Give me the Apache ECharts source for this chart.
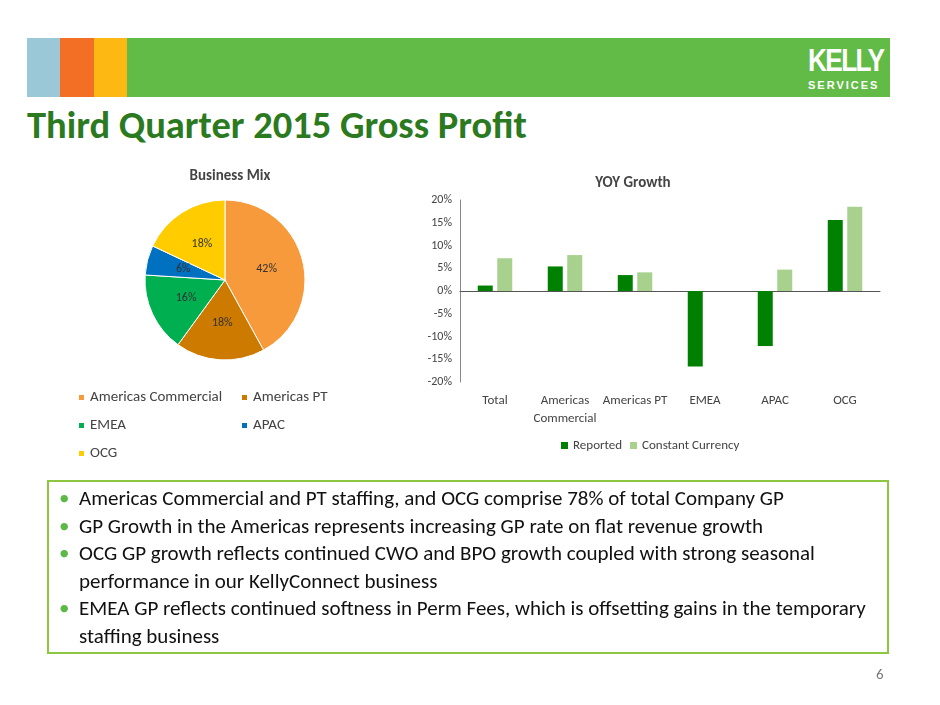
<!DOCTYPE html>
<html><head><meta charset="utf-8">
<script src="https://cdn.jsdelivr.net/npm/echarts@6/dist/echarts.min.js"></script>
<style>
body{margin:0;width:940px;height:705px;background:#fff;font-family:Carlito,Calibri,"Open Sans",sans-serif;position:relative;overflow:hidden}
#c{position:absolute;left:0;top:0;width:940px;height:705px}
.b{position:absolute;top:38px;height:59px}
#box{position:absolute;left:47px;top:480px;width:842px;height:174px;border:2px solid #8DC63F;box-sizing:border-box;padding:3px 10px;font-size:21px;color:#111;line-height:27.5px}
#box div{padding-left:20px;text-indent:-20px;margin-bottom:0}
#box span{color:#5DB848;display:inline-block;width:20px;text-indent:0}
</style></head><body>
<div class="b" style="left:27px;width:33px;background:#9BC8D6"></div>
<div class="b" style="left:60px;width:34px;background:#F36F26"></div>
<div class="b" style="left:94px;width:33px;background:#FDB813"></div>
<div class="b" style="left:127px;width:763px;background:#62BB46"></div>
<div style="position:absolute;left:808px;top:42px;color:#fff;font:bold 32px 'Liberation Sans Narrow',Arial,sans-serif;letter-spacing:-2px;transform:scaleX(0.82);transform-origin:left">KELLY</div>
<div style="position:absolute;left:808px;top:79px;color:#fff;font:bold 11px Arial,sans-serif;letter-spacing:2px">SERVICES</div>
<div style="position:absolute;left:27px;top:101px;color:#2C7A1F;font:bold 38.5px Carlito,'Open Sans',sans-serif">Third Quarter 2015 Gross Profit</div>
<div id="c"></div>
<div id="box">
<div><span>•</span>Americas Commercial and PT staffing, and OCG comprise 78% of total Company GP</div>
<div><span>•</span>GP Growth in the Americas represents increasing GP rate on flat revenue growth</div>
<div><span>•</span>OCG GP growth reflects continued CWO and BPO growth coupled with strong seasonal performance in our KellyConnect business</div>
<div><span>•</span>EMEA GP reflects continued softness in Perm Fees, which is offsetting gains in the temporary staffing business</div>
</div>
<div style="position:absolute;left:876px;top:665px;font-size:15px;color:#777">6</div>
<script>
const pieNames=['Americas Commercial','Americas PT','EMEA','APAC','OCG'];
const pieValues=[42,18,16,6,18];
const pieColors=['#F79A3B','#CC7A00','#00B050','#0070C0','#FFCC00'];
const barCats=['Total','Americas\nCommercial','Americas PT','EMEA','APAC','OCG'];
const reported=[1.2,5.4,3.5,-16.6,-12.1,15.6];
const constantCurrency=[7.2,7.9,4.1,0,4.7,18.5];
const f="Carlito,'Open Sans',sans-serif";
const lt={fontSize:15,color:'#444',fontFamily:f};
const ch=echarts.init(document.getElementById('c'));
ch.setOption({
 animation:false,
 title:[{text:'Business Mix',left:225,top:164,textAlign:'center',textStyle:{fontSize:15,fontWeight:'bold',color:'#444',fontFamily:f}},
        {text:'YOY Growth',left:628,top:171,textAlign:'center',textStyle:{fontSize:15,fontWeight:'bold',color:'#444',fontFamily:f}}],
 legend:[{data:['Americas Commercial','EMEA','OCG'],orient:'vertical',left:72,top:385,itemWidth:7,itemHeight:7,itemGap:13,icon:'rect',textStyle:lt},
         {data:['Americas PT','APAC'],orient:'vertical',left:235,top:385,itemWidth:7,itemHeight:7,itemGap:13,icon:'rect',textStyle:lt},
         {data:['Reported','Constant Currency'],left:556,top:434,itemWidth:7,itemHeight:7,icon:'rect',textStyle:{fontSize:13,color:'#444',fontFamily:f}}],
 grid:{left:460,top:200,width:420,height:182},
 xAxis:{type:'category',data:barCats,axisLine:{onZero:true,lineStyle:{color:'#555'}},axisTick:{show:false},
   axisLabel:{interval:0,color:'#444',fontSize:13,fontFamily:f,lineHeight:18,margin:10}},
 yAxis:{type:'value',min:-20,max:20,interval:5,splitLine:{show:false},axisLine:{show:true,lineStyle:{color:'#888'}},
   axisLabel:{formatter:'{value}%',color:'#444',fontSize:12,fontFamily:f}},
 series:[
  {type:'pie',center:[225,280],radius:80,startAngle:90,clockwise:true,data:pieNames.map((n,i)=>({name:n,value:pieValues[i],itemStyle:{color:pieColors[i]}})),
   label:{position:'inside',formatter:'{c}%',color:'#333',fontSize:12,fontFamily:f},itemStyle:{borderColor:'#fff',borderWidth:1}},
  {type:'bar',name:'Reported',data:reported,itemStyle:{color:'#008000'},barWidth:15,barGap:'30%'},
  {type:'bar',name:'Constant Currency',data:constantCurrency,itemStyle:{color:'#A9D18E'},barWidth:15}
 ]
});
</script>
</body></html>
